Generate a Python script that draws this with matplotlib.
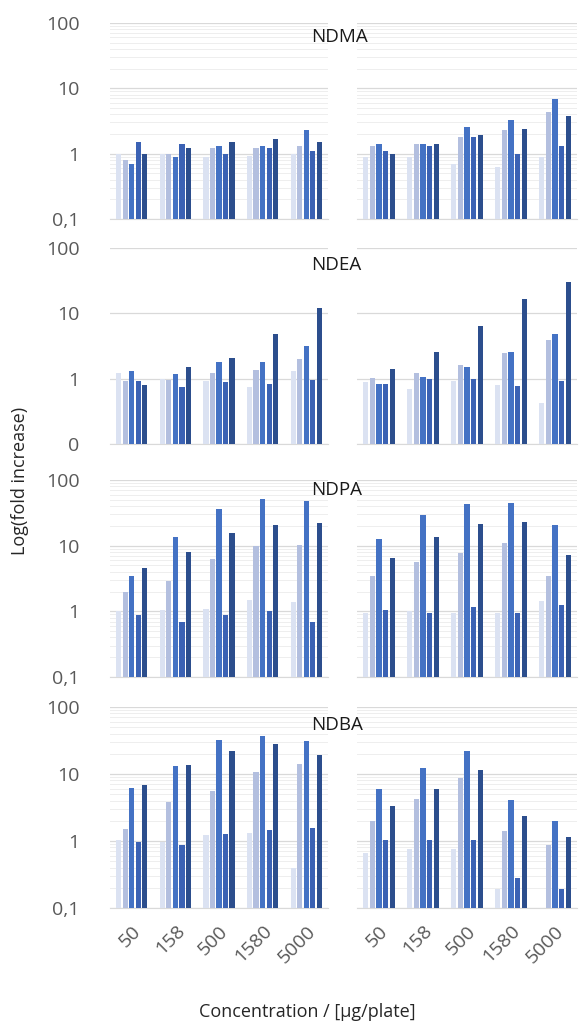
import numpy as np
import matplotlib
matplotlib.use("Agg")
import matplotlib.pyplot as plt
from matplotlib.ticker import FixedLocator, NullFormatter, LogLocator

plt.rcParams['font.family'] = ['Open Sans', 'DejaVu Sans']

concentrations = ["50", "158", "500", "1580", "5000"]
compounds = ["NDMA", "NDEA", "NDPA", "NDBA"]

# values: rows = concentration groups, columns = the 5 series (light -> dark)
ndma_left = [[1.0, 0.80, 0.70, 1.5, 1.0],
             [1.0, 1.0, 0.90, 1.4, 1.2],
             [0.90, 1.2, 1.3, 1.0, 1.5],
             [0.92, 1.2, 1.3, 1.2, 1.7],
             [1.0, 1.3, 2.3, 1.1, 1.5]]
ndma_right = [[0.90, 1.3, 1.4, 1.1, 1.0],
              [0.90, 1.4, 1.4, 1.3, 1.4],
              [0.70, 1.8, 2.6, 1.8, 1.9],
              [0.63, 2.3, 3.3, 1.0, 2.4],
              [0.90, 4.4, 6.9, 1.3, 3.8]]
ndea_left = [[1.24, 0.91, 1.31, 0.91, 0.80],
             [1.0, 0.97, 1.17, 0.75, 1.5],
             [0.91, 1.2, 1.8, 0.88, 2.05],
             [0.74, 1.36, 1.8, 0.84, 4.8],
             [1.31, 2.03, 3.2, 0.95, 11.9]]
ndea_right = [[0.88, 1.04, 0.84, 0.84, 1.4],
              [0.69, 1.2, 1.06, 0.99, 2.6],
              [0.93, 1.6, 1.5, 0.98, 6.5],
              [0.79, 2.45, 2.6, 0.77, 16.4],
              [0.42, 3.9, 4.9, 0.91, 30.0]]
ndpa_left = [[1.0, 2.0, 3.45, 0.89, 4.6],
             [1.06, 2.87, 13.5, 0.70, 8.0],
             [1.07, 6.2, 35.8, 0.89, 15.4],
             [1.5, 9.8, 52.0, 1.0, 20.7],
             [1.37, 10.3, 48.5, 0.70, 22.0]]
ndpa_right = [[0.94, 3.5, 12.8, 1.06, 6.5],
              [1.02, 5.7, 28.9, 0.94, 13.4],
              [0.94, 7.7, 42.6, 1.16, 21.5],
              [0.94, 10.8, 45.0, 0.94, 22.6],
              [1.45, 3.5, 20.8, 1.26, 7.3]]
ndba_left = [[1.04, 1.53, 6.1, 0.95, 6.8],
             [0.97, 3.85, 13.2, 0.87, 13.4],
             [1.24, 5.5, 32.7, 1.27, 22.4],
             [1.3, 10.7, 36.3, 1.46, 27.9],
             [0.39, 14.2, 30.8, 1.55, 19.1]]
ndba_right = [[0.67, 1.99, 5.9, 1.03, 3.3],
              [0.76, 4.3, 12.3, 1.03, 6.0],
              [0.76, 8.7, 22.3, 1.03, 11.3],
              [0.19, 1.43, 4.1, 0.28, 2.4],
              [np.nan, 0.87, 2.0, 0.19, 1.16]]

bottom_labels = ["0,1", "0", "0,1", "0,1"]
series_colors = ['#dbe2f2', '#b3bfdf', '#4472c4', '#3b62b4', '#2c4e8d']

data = [(ndma_left, ndma_right), (ndea_left, ndea_right),
        (ndpa_left, ndpa_right), (ndba_left, ndba_right)]

W, H = 584, 1026
fig = plt.figure(figsize=(W / 100, H / 100), dpi=100)

row_px = [(23, 219), (248, 444), (480, 677), (707, 908)]
col_px = [(110, 328), (357, 577)]
title_px = [(311, 37), (311, 265), (311, 490), (311, 725)]

n_series = 5
slot = 0.15
bw = 0.12
x = np.arange(len(concentrations))

for r, (top, bot) in enumerate(row_px):
    for c, (lft, rgt) in enumerate(col_px):
        ax = fig.add_axes([lft / W, 1 - bot / H, (rgt - lft) / W, (bot - top) / H])
        vals = np.array(data[r][c], dtype=float)
        ax.set_yscale('log')
        for s in range(n_series):
            offs = (s - (n_series - 1) / 2) * slot
            ax.bar(x + offs, vals[:, s], width=bw, color=series_colors[s], zorder=3)
        ax.set_ylim(0.1, 100)
        ax.set_xlim(-0.5, len(concentrations) - 0.5)
        ax.yaxis.set_major_locator(FixedLocator([0.1, 1, 10, 100]))
        if r != 1:
            ax.yaxis.set_minor_locator(LogLocator(base=10, subs=np.arange(2, 10)))
            ax.grid(True, which='minor', axis='y', color='#eeeeee', lw=0.7, zorder=0)
        else:
            ax.yaxis.set_minor_locator(FixedLocator([]))
        ax.yaxis.set_minor_formatter(NullFormatter())
        ax.grid(True, which='major', axis='y', color='#d9d9d9', lw=0.9, zorder=1)
        for sp in ['top', 'right', 'left']:
            ax.spines[sp].set_visible(False)
        ax.spines['bottom'].set_color('#d9d9d9')
        ax.tick_params(axis='y', which='both', length=0)
        ax.tick_params(axis='x', length=0)
        if c == 0:
            ax.set_yticklabels([bottom_labels[r], "1", "10", "100"],
                               fontsize=14, color='#595959')
            ax.tick_params(axis='y', pad=22)
        else:
            ax.set_yticklabels([])
        ax.set_xticks(x)
        if r == len(row_px) - 1:
            ax.set_xticklabels(concentrations, rotation=45, ha='right',
                               rotation_mode='anchor', fontsize=14, color='#595959')
            ax.tick_params(axis='x', pad=10)
        else:
            ax.set_xticklabels([])
        ax.set_facecolor('none')
    tx, ty = title_px[r]
    fig.text(tx / W, 1 - ty / H, compounds[r], ha='left', va='center',
             fontsize=13.5, color='#1a1a1a')

fig.text(20 / W, 1 - 481 / H, "Log(fold increase)", rotation=90,
         ha='center', va='center', fontsize=13, color='#262626')
fig.text(307 / W, 1 - 1012 / H, "Concentration / [µg/plate]", ha='center',
         va='center', fontsize=13, color='#262626')

fig.savefig("out.png", dpi=100)
